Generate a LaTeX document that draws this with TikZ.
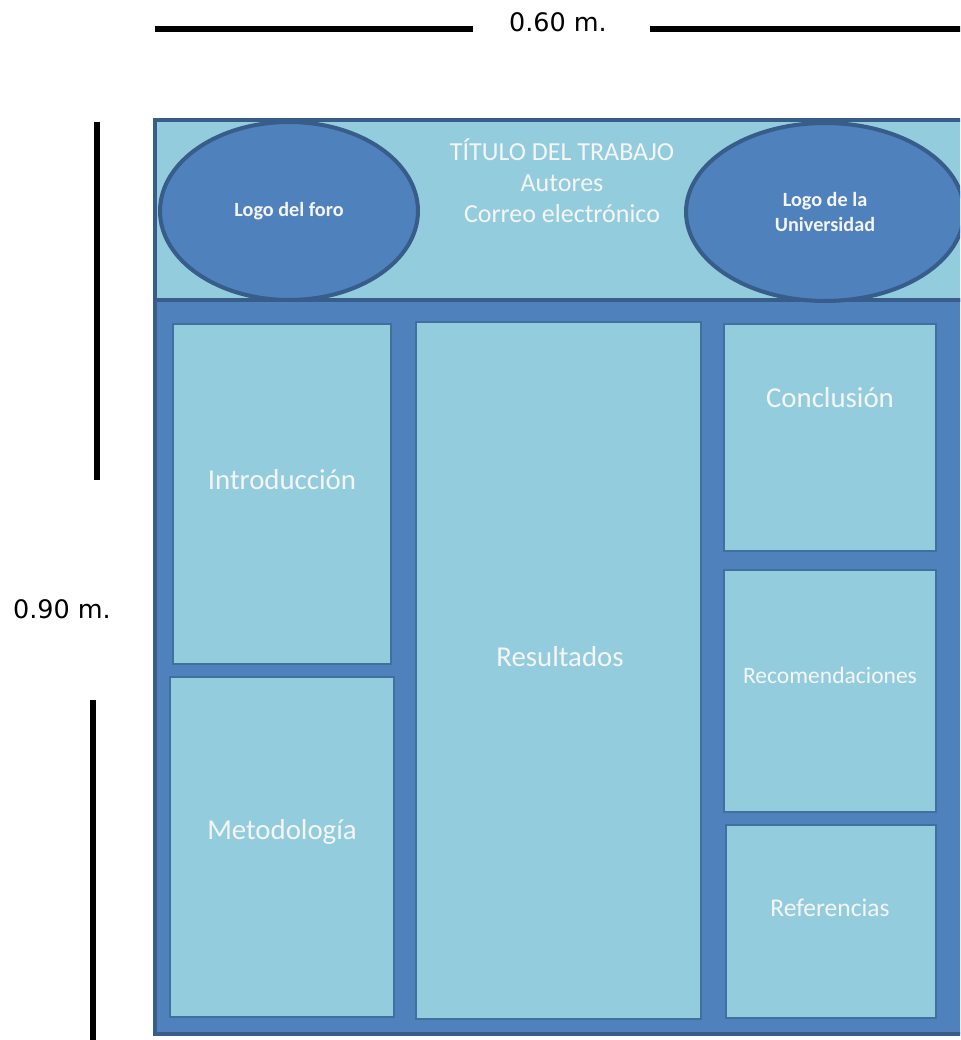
\documentclass[tikz,border=0pt]{standalone}
\usepackage{fontspec}
\setmainfont{Carlito}
\newfontfamily\dimfont{DejaVu Sans}
\usetikzlibrary{shapes.geometric}
\definecolor{paleblue}{HTML}{93CDDD}
\definecolor{midblue}{HTML}{4F81BD}
\definecolor{darkblue}{HTML}{385D8A}
\definecolor{edgeblue}{HTML}{41709F}

\begin{document}
\begin{tikzpicture}[x=0.02cm,y=-0.02cm,every node/.style={outer sep=0pt,text=white!96!black}]
  \tikzstyle{posterframe}=[line width=2.3pt,draw=darkblue]
  \tikzstyle{panel}=[fill=paleblue,draw=edgeblue,line width=0.9pt]
  \tikzstyle{logo}=[ellipse,fill=midblue,draw=darkblue,line width=2.3pt,inner sep=0pt,align=center,font=\bfseries\fontsize{11.5}{14.7}\selectfont]
  \tikzstyle{measure}=[line width=3.2pt,black]
  \tikzstyle{dimlabel}=[text=black,font=\dimfont\fontsize{14.5}{16}\selectfont]
  \tikzstyle{big}=[font=\fontsize{16.4}{18}\selectfont]
  \tikzstyle{small}=[font=\fontsize{14.8}{17.6}\selectfont]

  \useasboundingbox (0,0) rectangle (960,1040);
  \clip (0,0) rectangle (960,1040);

  % measures
  \draw [measure] (155,29) -- (473,29);
  \draw [measure] (650,29) -- (970,29);
  \node (ancho) [dimlabel] at (558,22) {0.60 m.};
  \draw [measure] (97,122) -- (97,480);
  \draw [measure] (93,700) -- (93,1045);
  \node (alto) [dimlabel] at (62,609) {0.90 m.};

  % poster
  \draw [posterframe,fill=midblue] (155,300) rectangle (1000,1034);
  \draw [posterframe,fill=paleblue] (155,120) rectangle (1000,300);
  \node (foro) [logo,minimum width=5.16cm,minimum height=3.56cm] at (289,211) {Logo del foro};
  \node (uni) [logo,minimum width=5.56cm,minimum height=3.56cm] at (825,212) {Logo de la\\Universidad};
  \node (titulo) [small,align=center] at (562,181) {TÍTULO DEL TRABAJO\\Autores\\Correo electrónico};

  % sections
  \draw [panel] (173,324) rectangle (391,664);
  \draw [panel] (170,677) rectangle (394,1017);
  \draw [panel] (416,322) rectangle (701,1019);
  \draw [panel] (724,324) rectangle (936,551);
  \draw [panel] (724,570) rectangle (936,812);
  \draw [panel] (726,825) rectangle (936,1018);
  \node (intro) [big] at (282,480) {Introducción};
  \node (metodo) [big] at (282,832) {Metodología};
  \node (result) [big] at (560,657) {Resultados};
  \node (concl) [big] at (830,398) {Conclusión};
  \node (recom) [font=\fontsize{13.4}{16}\selectfont] at (830,675) {Recomendaciones};
  \node (refs) [font=\fontsize{14.5}{16}\selectfont] at (830,908) {Referencias};
\end{tikzpicture}
\end{document}
